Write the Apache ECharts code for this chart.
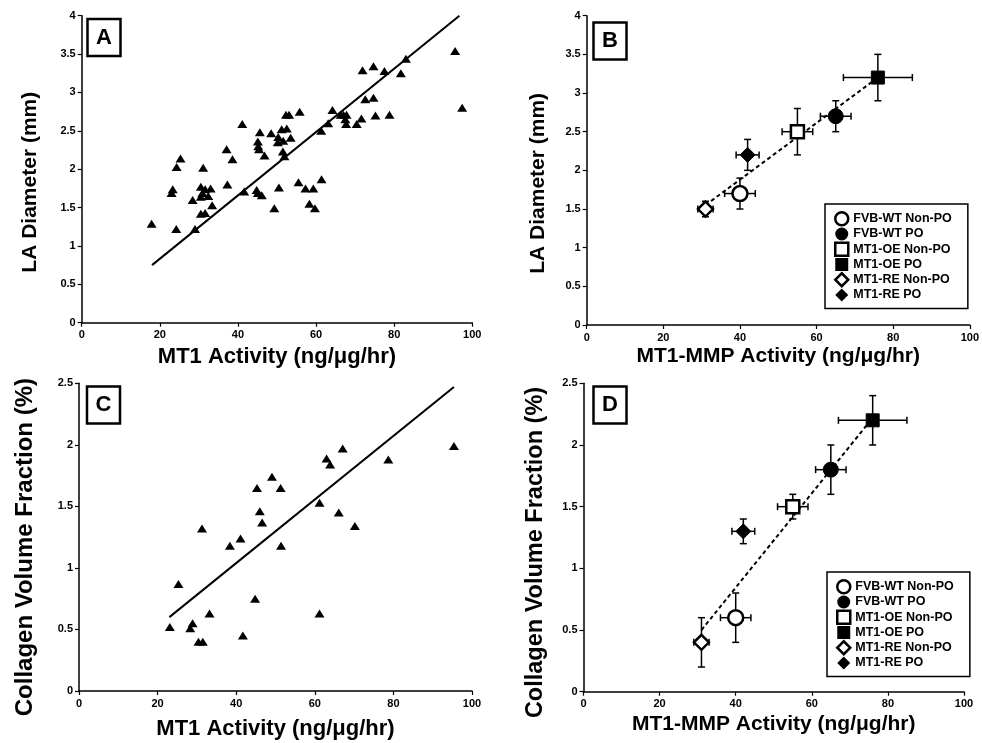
<!DOCTYPE html>
<html><head><meta charset="utf-8">
<script src="https://cdn.jsdelivr.net/npm/echarts@6/dist/echarts.min.js"></script>
<style>html,body{margin:0;padding:0;background:#fff}#c{width:982px;height:743px}</style>
</head><body><div id="c"></div>
<script>
// ---- Panel A data (MT1 activity vs LA diameter) ----
const aX = [17.9, 23.3, 23.0, 24.3, 25.3, 24.2, 29.0, 28.4, 30.5, 31.1, 30.5, 30.9, 32.4, 31.6, 33.0, 30.5, 31.6, 33.4, 37.1, 38.6, 37.3, 41.1, 41.6, 44.8, 45.1, 46.1, 45.6, 45.1, 45.2, 45.4, 46.8, 48.5, 49.3, 50.5, 50.3, 50.2, 51.2, 52.5, 52.3, 53.1, 51.6, 53.5, 51.5, 51.9, 55.8, 55.5, 57.3, 59.3, 58.3, 59.7, 61.4, 61.3, 63.1, 64.2, 66.3, 67.0, 67.8, 67.5, 67.7, 70.4, 71.6, 71.9, 72.6, 74.7, 74.7, 75.2, 77.5, 78.8, 81.7, 83.0, 95.6, 97.4];
const aY = [1.29, 1.74, 1.69, 2.03, 2.14, 1.22, 1.22, 1.60, 1.77, 2.02, 1.64, 1.69, 1.65, 1.74, 1.75, 1.42, 1.43, 1.53, 2.26, 2.13, 1.80, 2.59, 1.71, 1.73, 1.69, 1.66, 2.48, 2.36, 2.30, 2.26, 2.18, 2.47, 1.49, 1.76, 2.42, 2.35, 2.52, 2.53, 2.71, 2.71, 2.37, 2.41, 2.23, 2.17, 2.75, 1.83, 1.75, 1.75, 1.55, 1.49, 1.87, 2.50, 2.60, 2.77, 2.71, 2.71, 2.71, 2.65, 2.59, 2.59, 2.66, 3.29, 2.91, 3.34, 2.93, 2.70, 3.28, 2.71, 3.25, 3.44, 3.54, 2.80];
const aFitX = [18, 96.7];
const aFitY = [0.75, 4.0];

// ---- Panel C data (MT1 activity vs collagen volume fraction) ----
const cX = [23.1, 25.3, 28.3, 28.9, 30.4, 31.5, 31.3, 33.2, 38.4, 41.1, 41.7, 44.8, 45.3, 46.0, 46.6, 49.1, 51.3, 51.4, 61.2, 61.2, 63.0, 63.9, 66.1, 67.1, 70.2, 78.7, 95.4];
const cY = [0.52, 0.87, 0.51, 0.55, 0.40, 0.40, 1.32, 0.63, 1.18, 1.24, 0.45, 0.75, 1.65, 1.46, 1.37, 1.74, 1.65, 1.18, 1.53, 0.63, 1.89, 1.84, 1.45, 1.97, 1.34, 1.88, 1.99];
const cFitX = [23, 95.4];
const cFitY = [0.60, 2.47];

// ---- Panels B and D group means ----
const groups = ['FVB-WT Non-PO', 'FVB-WT PO', 'MT1-OE Non-PO', 'MT1-OE PO', 'MT1-RE Non-PO', 'MT1-RE PO'];
const groupX = [40, 65, 55, 76, 31, 42];
const groupXErr = [4, 4, 4, 9, 2, 3];
const bY = [1.7, 2.7, 2.5, 3.2, 1.5, 2.2];
const bYErr = [0.2, 0.2, 0.3, 0.3, 0.1, 0.2];
const bFitX = [31, 76];
const bFitY = [1.55, 3.2];
const dY = [0.6, 1.8, 1.5, 2.2, 0.4, 1.3];
const dYErr = [0.2, 0.2, 0.1, 0.2, 0.2, 0.1];
const dFitX = [31, 76];
const dFitY = [0.5, 2.22];

// ---- styles ----
const FONT = '"Liberation Sans", Arial, sans-serif';
const groupSymbol = ['circle', 'circle', 'rect', 'rect', 'diamond', 'diamond'];
const groupFilled = [false, true, false, true, false, true];
const groupSize = [15, 15, 13, 13, 15, 15];

function markerStyle(i) {
  return groupFilled[i]
    ? { color: '#000', borderColor: '#000', borderWidth: 1, opacity: 1 }
    : { color: '#fff', borderColor: '#000', borderWidth: 2.5, opacity: 1 };
}

function errRender(params, api) {
  const x = api.value(0), y = api.value(1), ex = api.value(2), ey = api.value(3);
  const l = api.coord([x - ex, y]), r = api.coord([x + ex, y]);
  const t = api.coord([x, y + ey]), b = api.coord([x, y - ey]);
  const cap = 3.5;
  const style = { stroke: '#000', lineWidth: 1.5 };
  const ln = (x1, y1, x2, y2) => ({ type: 'line', shape: { x1, y1, x2, y2 }, style });
  return { type: 'group', children: [
    ln(l[0], l[1], r[0], r[1]),
    ln(l[0], l[1] - cap, l[0], l[1] + cap),
    ln(r[0], r[1] - cap, r[0], r[1] + cap),
    ln(t[0], t[1], b[0], b[1]),
    ln(t[0] - cap, t[1], t[0] + cap, t[1]),
    ln(b[0] - cap, b[1], b[0] + cap, b[1])
  ]};
}

const axisLineStyle = { show: true, lineStyle: { color: '#000', width: 1.5 } };
const tickStyle = { show: true, inside: false, length: 4, lineStyle: { color: '#000', width: 1.2 } };
const lblStyle = { color: '#000', fontSize: 11, fontWeight: 'bold', fontFamily: FONT };

function xAx(gi, name, gap, size) {
  return { type: 'value', gridIndex: gi, min: 0, max: 100, interval: 20,
    name, nameLocation: 'middle', nameGap: gap,
    nameTextStyle: { color: '#000', fontSize: size, fontWeight: 'bold', fontFamily: FONT },
    axisLine: axisLineStyle, axisTick: tickStyle, splitLine: { show: false },
    axisLabel: Object.assign({ margin: 7 }, lblStyle) };
}
function yAx(gi, name, max, gap, size, shift) {
  return { type: 'value', gridIndex: gi, min: 0, max, interval: 0.5,
    name, nameLocation: 'middle', nameGap: gap,
    nameTextStyle: { color: '#000', fontSize: size, fontWeight: 'bold', fontFamily: FONT, padding: [0, 2 * shift, 0, 0] },
    axisLine: axisLineStyle, axisTick: tickStyle, splitLine: { show: false },
    axisLabel: Object.assign({ margin: 6 }, lblStyle) };
}

const series = [];
// A
series.push({ type: 'line', xAxisIndex: 0, yAxisIndex: 0, data: aFitX.map((x, i) => [x, aFitY[i]]),
  symbol: 'none', lineStyle: { color: '#000', width: 2 }, z: 2 });
series.push({ type: 'scatter', xAxisIndex: 0, yAxisIndex: 0, data: aX.map((x, i) => [x, aY[i]]),
  symbol: 'triangle', symbolSize: [10, 8], itemStyle: { color: '#000', opacity: 1 }, z: 3 });
// C
series.push({ type: 'line', xAxisIndex: 2, yAxisIndex: 2, data: cFitX.map((x, i) => [x, cFitY[i]]),
  symbol: 'none', lineStyle: { color: '#000', width: 2 }, z: 2 });
series.push({ type: 'scatter', xAxisIndex: 2, yAxisIndex: 2, data: cX.map((x, i) => [x, cY[i]]),
  symbol: 'triangle', symbolSize: [10, 8], itemStyle: { color: '#000', opacity: 1 }, z: 3 });
// B and D
[[1, bY, bYErr, bFitX, bFitY], [3, dY, dYErr, dFitX, dFitY]].forEach(([gi, ys, yErr, fx, fy]) => {
  series.push({ type: 'line', xAxisIndex: gi, yAxisIndex: gi, data: fx.map((x, i) => [x, fy[i]]),
    symbol: 'none', lineStyle: { color: '#000', width: 2, type: [4, 3] }, z: 2 });
  series.push({ type: 'custom', xAxisIndex: gi, yAxisIndex: gi, renderItem: errRender,
    encode: { x: 0, y: 1 },
    data: groupX.map((x, i) => [x, ys[i], groupXErr[i], yErr[i]]), z: 3 });
  groups.forEach((g, i) => {
    series.push({ type: 'scatter', name: g, xAxisIndex: gi, yAxisIndex: gi,
      data: [[groupX[i], ys[i]]], symbol: groupSymbol[i], symbolSize: groupSize[i],
      itemStyle: markerStyle(i), z: 5 });
  });
});

function legendAt(left, top) {
  return { left, top, orient: 'vertical', selectedMode: false,
    itemWidth: 13, itemHeight: 13, itemGap: 1, padding: [7, 16, 7, 9],
    borderColor: '#000', borderWidth: 1.5, backgroundColor: '#fff',
    textStyle: { color: '#000', fontSize: 12.5, fontWeight: 'bold', fontFamily: FONT, lineHeight: 13 },
    data: groups.map((g, i) => ({ name: g, icon: groupSymbol[i],
      itemStyle: groupFilled[i] ? { color: '#000', borderWidth: 0, opacity: 1 } : { color: '#fff', borderColor: '#000', borderWidth: 2.5, opacity: 1 } })) };
}

function letter(t, left, top) {
  return { text: t, left, top, borderColor: '#000', borderWidth: 2.5, padding: [6, 9, 6, 9],
    textStyle: { color: '#000', fontSize: 22, fontWeight: 'bold', fontFamily: FONT, lineHeight: 26 } };
}

const option = {
  animation: false,
  backgroundColor: '#fff',
  title: [letter('A', 87, 18.5), letter('B', 593, 22), letter('C', 86.5, 386), letter('D', 593, 386)],
  legend: [legendAt(825, 204), legendAt(827, 572)],
  grid: [
    { left: 81.7, top: 15.7, width: 390.6, height: 307 },
    { left: 586.7, top: 15.7, width: 385.6, height: 309.3 },
    { left: 79, top: 383.3, width: 393, height: 307.7 },
    { left: 583.5, top: 383.3, width: 380.5, height: 308.4 }
  ],
  xAxis: [
    xAx(0, 'MT1 Activity (ng/μg/hr)', 23, 22),
    xAx(1, 'MT1-MMP Activity (ng/μg/hr)', 21, 21),
    xAx(2, 'MT1 Activity (ng/μg/hr)', 27, 22),
    xAx(3, 'MT1-MMP Activity (ng/μg/hr)', 22, 21)
  ],
  yAxis: [
    yAx(0, 'LA Diameter (mm)', 4, 41, 21, 13),
    yAx(1, 'LA Diameter (mm)', 4, 38, 21, 13),
    yAx(2, 'Collagen Volume Fraction (%)', 2.5, 42, 24, 10),
    yAx(3, 'Collagen Volume Fraction (%)', 2.5, 36, 23.5, 15)
  ],
  series
};

echarts.init(document.getElementById('c'), null, { renderer: 'canvas' }).setOption(option);
</script>
</body></html>
